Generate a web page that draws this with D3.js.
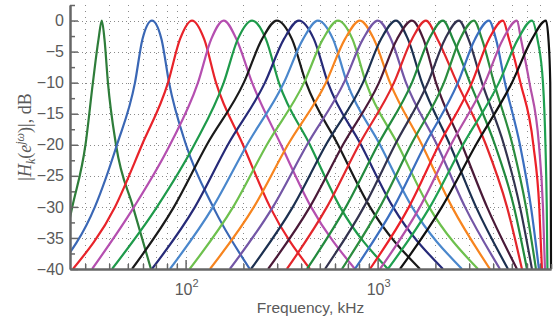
<!DOCTYPE html>
<html>
<head>
<meta charset="utf-8">
<script src="https://cdn.jsdelivr.net/npm/d3@7"></script>
<style>
  body { margin: 0; background: #fff; }
  svg { display: block; font-family: "Liberation Sans", Arial, sans-serif; }
</style>
</head>
<body>
<div id="chart"></div>
<script>
// dB level of each point along a filter curve (left foot -> peak -> right foot)
const levels = [-40, -30, -20, -10, -3, 0, -3, -10, -20, -30, -40];

// frequency (Hz) where each filter reaches the levels above
const filterFreqs = [
  [21.9, 25.7, 30.1, 32.9, 35.2, 36.6, 37.8, 39.4, 43.4, 53.2, 66.0],
  [21.6, 33.7, 43.9, 54.5, 59.6, 66.8, 74.9, 82.0, 100.5, 139, 216],
  [25.9, 42.9, 59.3, 81.0, 93.5, 108, 125, 144, 199, 275, 444],
  [32.6, 53.9, 82.9, 116, 136, 158, 184, 222, 314, 450, 762],
  [41.4, 71.0, 111, 158, 187, 222, 262, 306, 444, 637, 1132],
  [52.6, 87.0, 129, 201, 250, 299, 358, 424, 622, 912, 1662],
  [66.8, 112, 166, 259, 325, 389, 466, 551, 819, 1202, 2190],
  [82.9, 139, 209, 325, 409, 489, 586, 693, 1029, 1510, 2750],
  [105, 177, 265, 414, 519, 622, 740, 870, 1277, 1852, 3332],
  [134, 227, 341, 538, 676, 809, 957, 1160, 1702, 2439, 3847],
  [170, 285, 429, 668, 839, 1004, 1174, 1405, 2038, 2851, 4337],
  [219, 362, 538, 839, 1041, 1246, 1439, 1702, 2381, 3253, 4775],
  [269, 444, 660, 1017, 1262, 1510, 1733, 2014, 2750, 3712, 5319],
  [337, 545, 800, 1217, 1510, 1786, 2050, 2590, 3667, 4718, 5647],
  [429, 684, 1004, 1510, 1852, 2190, 2469, 3027, 4085, 5131, 5996],
  [532, 849, 1232, 1829, 2243, 2653, 2973, 3495, 4551, 5513, 6366],
  [652, 1029, 1492, 2216, 2685, 3176, 3495, 4037, 5039, 5925, 6679],
  [762, 1217, 1765, 2621, 3214, 3802, 4135, 4606, 5513, 6290, 6923],
  [912, 1457, 2087, 3100, 3802, 4497, 4832, 5546, 6474, 6949, 7177],
  [1029, 1662, 2410, 3624, 4497, 5319, 5580, 6178, 6923, 7264, 7441],
  [1132, 1874, 2783, 4286, 5383, 6366, 6800, 7264, 7485, 7603, 7666],
  [1308, 2164, 3253, 5009, 6366, 7530, 7760, 7928, 7966, 7986, 8000]
];

const filterColors = [
  "#2e7d3a", "#3a67b5", "#e8232a", "#b54fb0", "#1e9a4a", "#1a1a1a",
  "#262a78", "#4a87cc", "#6dc04d", "#f7841e", "#7356a6", "#1c3050",
  "#4a1a38", "#e3262b", "#228a3e", "#33334f", "#2b8c3e", "#3b6fc0",
  "#ec2028", "#b350a8", "#1fa050", "#111111"
];

const yTicks = [0, -5, -10, -15, -20, -25, -30, -35, -40];
const yMinorTicks = [2.5, -2.5, -7.5, -12.5, -17.5, -22.5, -27.5, -32.5, -37.5];
const xMajorTicks = [100, 1000];
const xMajorExponents = ["2", "3"];
const xMinorTicks = [30, 40, 50, 60, 70, 80, 90,
  200, 300, 400, 500, 600, 700, 800, 900,
  2000, 3000, 4000, 5000, 6000, 7000, 8000];

const dims = {
  width: 559,
  height: 325,
  left: 70,
  right: 551,
  top: 5,
  bottom: 269,
};

const axisColor = "#666";
const textColor = "#5a5a5a";

const svg = d3.select("#chart")
  .append("svg")
    .attr("width", dims.width)
    .attr("height", dims.height);

// scales
const xScale = d3.scaleLog()
  .domain([25, 8000])
  .range([dims.left, dims.right]);

const yScale = d3.scaleLinear()
  .domain([-40, 2.5])
  .range([dims.bottom, dims.top]);

// dotted grid
const grid = svg.append("g")
  .attr("stroke", "#8a8a8a")
  .attr("stroke-width", 1);

grid.selectAll(".vgrid")
  .data(xMinorTicks.concat(xMajorTicks).filter(d => d < 8000))
  .enter()
  .append("line")
    .attr("x1", d => Math.round(xScale(d)) + 0.5)
    .attr("x2", d => Math.round(xScale(d)) + 0.5)
    .attr("y1", yScale(2.5))
    .attr("y2", yScale(-40))
    .attr("stroke-dasharray", "1,5");

grid.selectAll(".hgrid")
  .data(yTicks.filter(d => d > -40))
  .enter()
  .append("line")
    .attr("x1", dims.left)
    .attr("x2", dims.right)
    .attr("y1", d => Math.round(yScale(d)) + 0.5)
    .attr("y2", d => Math.round(yScale(d)) + 0.5)
    .attr("stroke-dasharray", "1,3");

// filter curves
svg.append("clipPath")
  .attr("id", "plot-clip")
  .append("rect")
    .attr("x", dims.left)
    .attr("y", 0)
    .attr("width", dims.right - dims.left + 2)
    .attr("height", dims.bottom);

const lineGenerator = d3.line()
  .x(d => xScale(d.f))
  .y(d => yScale(d.db))
  .curve(d3.curveMonotoneX);

svg.append("g")
  .attr("clip-path", "url(#plot-clip)")
  .selectAll("path")
  .data(filterFreqs)
  .enter()
  .append("path")
    .attr("d", freqs => lineGenerator(freqs.map((f, i) => ({f: f, db: levels[i]}))))
    .attr("fill", "none")
    .attr("stroke", (d, i) => filterColors[i])
    .attr("stroke-width", 2.2)
    .attr("stroke-linejoin", "round");

// axes
const styleAxis = g => {
  g.select(".domain").attr("stroke", axisColor).attr("stroke-width", 2);
  g.selectAll(".tick line").attr("stroke", axisColor).attr("stroke-width", 1.5);
};

svg.append("g")
  .attr("transform", `translate(${dims.left},0)`)
  .call(d3.axisLeft(yScale).tickValues(yMinorTicks).tickSize(-5).tickSizeOuter(0).tickFormat(""))
  .call(styleAxis);

const yAxis = svg.append("g")
  .attr("transform", `translate(${dims.left},0)`)
  .call(d3.axisLeft(yScale)
    .tickValues(yTicks)
    .tickSize(-8)
    .tickSizeOuter(0)
    .tickPadding(6)
    .tickFormat(d => d === 0 ? "0" : "\u2212" + Math.abs(d)))
  .call(styleAxis);

yAxis.selectAll("text")
  .attr("fill", textColor)
  .style("font-size", "16px")
  .style("font-family", "'Liberation Sans', Arial, sans-serif");

svg.append("g")
  .attr("transform", `translate(0,${dims.bottom})`)
  .call(d3.axisBottom(xScale).tickValues(xMinorTicks).tickSize(-5).tickSizeOuter(0).tickFormat(""))
  .call(styleAxis);

svg.append("g")
  .attr("transform", `translate(0,${dims.bottom})`)
  .call(d3.axisBottom(xScale).tickValues(xMajorTicks).tickSize(-9).tickSizeOuter(0).tickFormat(""))
  .call(styleAxis);

// x tick labels as 10^n
const xLabels = svg.append("g")
  .selectAll("text")
  .data(xMajorTicks)
  .enter()
  .append("text")
    .attr("x", d => xScale(d) + 1)
    .attr("y", 295)
    .attr("text-anchor", "middle")
    .attr("fill", textColor)
    .style("font-size", "16px");

xLabels.append("tspan").text("10");
xLabels.append("tspan")
  .attr("dy", -8)
  .style("font-size", "11px")
  .text((d, i) => xMajorExponents[i]);

// axis titles
svg.append("text")
  .attr("x", (dims.left + dims.right) / 2)
  .attr("y", 313)
  .attr("text-anchor", "middle")
  .attr("fill", textColor)
  .style("font-size", "15.5px")
  .text("Frequency, kHz");

const yTitle = svg.append("text")
  .attr("transform", `translate(31,${(dims.top + dims.bottom) / 2}) rotate(-90)`)
  .attr("text-anchor", "middle")
  .attr("fill", textColor)
  .style("font-family", "'Liberation Serif', 'DejaVu Serif', serif")
  .style("font-size", "18px");

yTitle.append("tspan").text("|");
yTitle.append("tspan").style("font-style", "italic").text("H");
yTitle.append("tspan").style("font-style", "italic").style("font-size", "12px").attr("dy", 4).text("k");
yTitle.append("tspan").attr("dy", -4).text("(");
yTitle.append("tspan").style("font-style", "italic").text("e");
yTitle.append("tspan").style("font-style", "italic").style("font-size", "12px").attr("dy", -7).text("j\u03c9");
yTitle.append("tspan").attr("dy", 7).text(")|, dB");
</script>
</body>
</html>
